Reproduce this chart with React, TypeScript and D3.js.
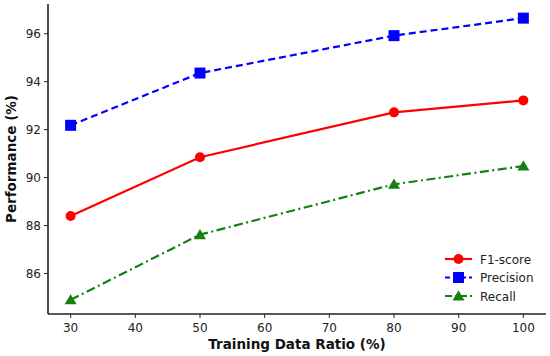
import React from "react";
import * as d3 from "d3";

const ratios = [30, 50, 80, 100];
const f1 = [88.4, 90.85, 92.72, 93.22];
const precision = [92.18, 94.36, 95.92, 96.65];
const recall = [84.9, 87.62, 89.72, 90.48];
const xTicks = [30, 40, 50, 60, 70, 80, 90, 100];
const yTicks = [86, 88, 90, 92, 94, 96];

const W = 550, H = 356;
const left = 48, right = 546, top = 4, bottom = 314;

export default function App() {
  const x = d3.scaleLinear().domain([26.5, 103.5]).range([left, right]);
  const y = d3.scaleLinear().domain([84.31, 97.24]).range([bottom, top]);
  const line = d3.line<number>().x((_, i) => x(ratios[i])).y((d) => y(d));
  const font = "DejaVu Sans, sans-serif";
  const tri = (cx: number, cy: number, s: number) =>
    `M${cx},${cy - s * 0.95} L${cx + s},${cy + s * 0.75} L${cx - s},${cy + s * 0.75} Z`;
  const series = [
    { name: "F1-score", data: f1, color: "#ff0000", dash: "", marker: "circle" },
    { name: "Precision", data: precision, color: "#0000ff", dash: "7,4", marker: "square" },
    { name: "Recall", data: recall, color: "#157f0f", dash: "9,3.5,2,3.5", marker: "triangle" },
  ];
  const marker = (m: string, cx: number, cy: number, c: string, k: string) => {
    if (m === "circle") return <circle key={k} cx={cx} cy={cy} r={5} fill={c} />;
    if (m === "square") return <rect key={k} x={cx - 5.5} y={cy - 5.5} width={11} height={11} fill={c} />;
    return <path key={k} d={tri(cx, cy, 6)} fill={c} />;
  };
  return (
    <svg width={W} height={H} style={{ position: "absolute", left: 0, top: 0, background: "#fff" }}>
      {series.map((s) => (
        <g key={s.name}>
          <path d={line(s.data) || ""} fill="none" stroke={s.color} strokeWidth={2.2} strokeDasharray={s.dash} />
          {s.data.map((d, i) => marker(s.marker, x(ratios[i]), y(d), s.color, s.name + i))}
        </g>
      ))}
      <line x1={left} x2={left} y1={top} y2={bottom} stroke="#222" strokeWidth={1.6} />
      <line x1={left} x2={right} y1={bottom} y2={bottom} stroke="#222" strokeWidth={1.6} />
      {xTicks.map((t) => (
        <g key={"x" + t}>
          <line x1={x(t)} x2={x(t)} y1={bottom} y2={bottom + 4} stroke="#222" strokeWidth={1} />
          <text x={x(t)} y={bottom + 18} textAnchor="middle" fontFamily={font} fontSize={12} fill="#222">{t}</text>
        </g>
      ))}
      {yTicks.map((t) => (
        <g key={"y" + t}>
          <line x1={left - 4} x2={left} y1={y(t)} y2={y(t)} stroke="#222" strokeWidth={1} />
          <text x={left - 7} y={y(t) + 4.3} textAnchor="end" fontFamily={font} fontSize={12} fill="#222">{t}</text>
        </g>
      ))}
      <text x={(left + right) / 2 - 0} y={349} textAnchor="middle" fontFamily={font} fontSize={13.5} fontWeight="bold" fill="#111">Training Data Ratio (%)</text>
      <text transform={`translate(16,${(top + bottom) / 2}) rotate(-90)`} textAnchor="middle" fontFamily={font} fontSize={13.5} fontWeight="bold" fill="#111">Performance (%)</text>
      {series.map((s, i) => {
        const ly = 259 + i * 18.5;
        return (
          <g key={"leg" + s.name}>
          <line x1={445} x2={472} y1={ly} y2={ly} stroke={s.color} strokeWidth={2.2} strokeDasharray={s.dash ? (i === 1 ? "5,3" : "7,3,2,3") : ""} />
            {marker(s.marker, 458.5, ly, s.color, "lm" + i)}
            <text x={480} y={ly + 4.5} fontFamily={font} fontSize={12} fill="#222">{s.name}</text>
          </g>
        );
      })}
    </svg>
  );
}
